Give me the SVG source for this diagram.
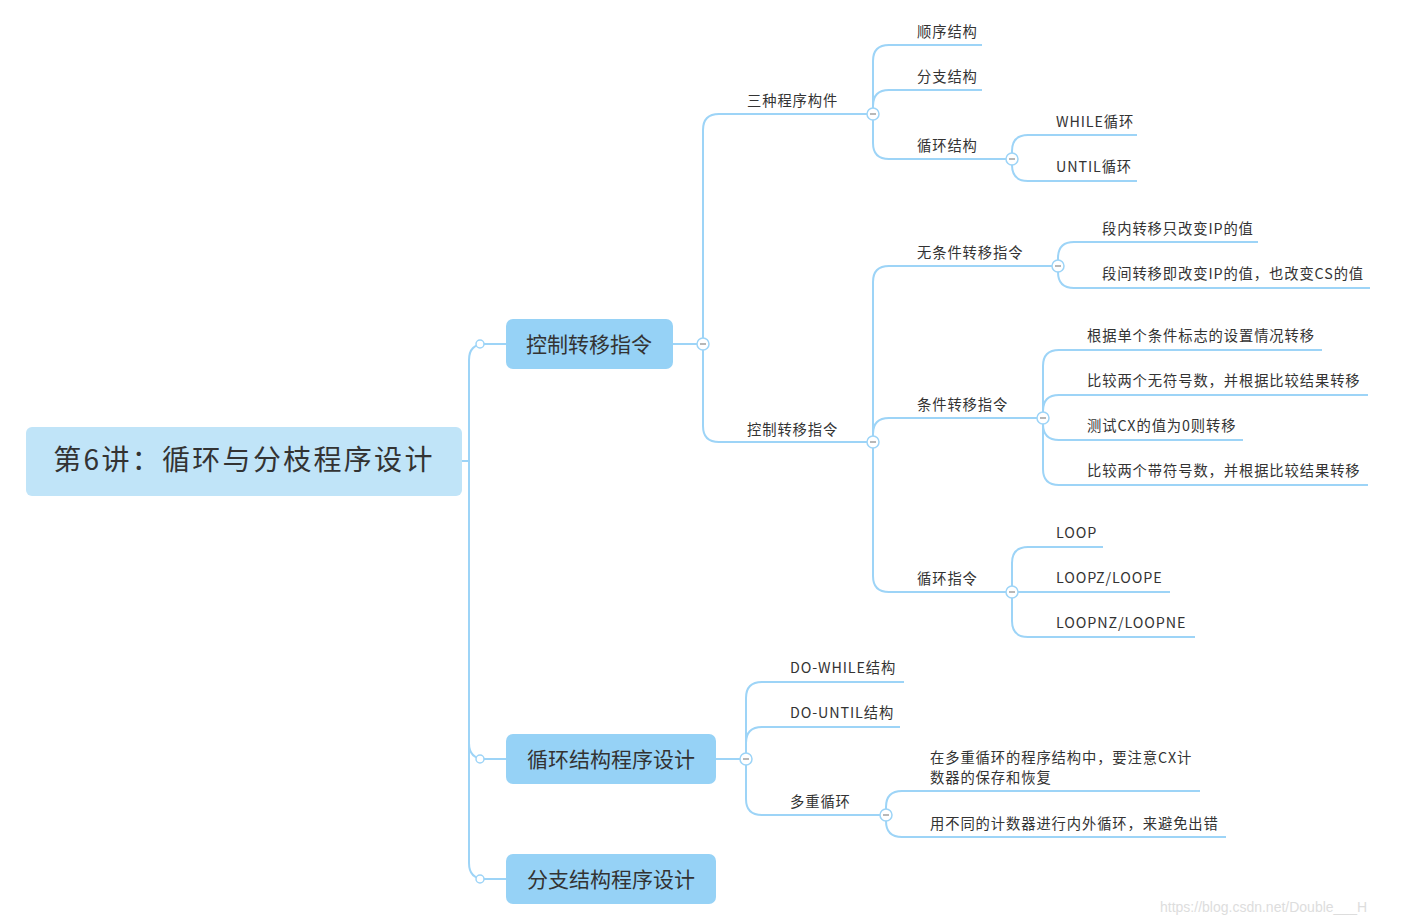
<svg xmlns="http://www.w3.org/2000/svg" width="1405" height="924" viewBox="0 0 1405 924">
<style>
.c{fill:none;stroke:#9dd4f7;stroke-width:2}
.t{font-family:"Noto Sans CJK SC","Noto Sans",sans-serif;font-size:14.3px;fill:#333;letter-spacing:0.9px}
.l1{font-family:"Noto Sans CJK SC","Noto Sans",sans-serif;font-size:21px;fill:#333}
.k{fill:#fff;stroke:#9dd4f7;stroke-width:1.5}
.m{stroke:#888;stroke-width:1.2}
</style>
<rect width="1405" height="924" fill="#fff"/>
<g id="connectors">
<path class="c" d="M462 461H469M469 461V360Q469 344 485 344H506M469 461V743Q469 759 485 759H506M469 461V863Q469 879 485 879H506"/>
<path class="c" d="M673 344H703M703 344V130Q703 114 719 114H873M703 344V426Q703 442 719 442H873"/>
<path class="c" d="M873 114V61Q873 45 889 45H982M873 114V106Q873 90 889 90H982M873 114V143Q873 159 889 159H1012"/>
<path class="c" d="M1012 159V151Q1012 135 1028 135H1137M1012 159V165Q1012 181 1028 181H1137"/>
<path class="c" d="M873 442V282Q873 266 889 266H1058M873 442V434Q873 418 889 418H1043M873 442V576Q873 592 889 592H1012"/>
<path class="c" d="M1058 266V258Q1058 242 1074 242H1258M1058 266V272Q1058 288 1074 288H1370"/>
<path class="c" d="M1043 418V366Q1043 350 1059 350H1322M1043 418V411Q1043 395 1059 395H1368M1043 418V424Q1043 440 1059 440H1243M1043 418V469Q1043 485 1059 485H1368"/>
<path class="c" d="M1012 592V563Q1012 547 1028 547H1103M1012 592H1170M1012 592V621Q1012 637 1028 637H1195"/>
<path class="c" d="M716 759H746M746 759V698Q746 682 762 682H904M746 759V743Q746 727 762 727H900M746 759V799Q746 815 762 815H886"/>
<path class="c" d="M886 815V807Q886 791 902 791H1200M886 815V821Q886 837 902 837H1226"/>
<g>
<circle class="k" cx="480" cy="344" r="4"/><circle class="k" cx="480" cy="759" r="4"/><circle class="k" cx="480" cy="879" r="4"/>
<circle class="k" cx="703" cy="344" r="6"/><path class="m" d="M700 344h6"/>
<circle class="k" cx="873" cy="114" r="6"/><path class="m" d="M870 114h6"/>
<circle class="k" cx="873" cy="442" r="6"/><path class="m" d="M870 442h6"/>
<circle class="k" cx="1012" cy="159" r="6"/><path class="m" d="M1009 159h6"/>
<circle class="k" cx="1058" cy="266" r="6"/><path class="m" d="M1055 266h6"/>
<circle class="k" cx="1043" cy="418" r="6"/><path class="m" d="M1040 418h6"/>
<circle class="k" cx="1012" cy="592" r="6"/><path class="m" d="M1009 592h6"/>
<circle class="k" cx="746" cy="759" r="6"/><path class="m" d="M743 759h6"/>
<circle class="k" cx="886" cy="815" r="6"/><path class="m" d="M883 815h6"/>
</g>
</g>
<g id="root"><rect x="26" y="427" width="436" height="69" rx="6" fill="#c0e4f8"/><text x="244" y="470" text-anchor="middle" font-family="Noto Sans CJK SC,sans-serif" font-size="28" fill="#333" letter-spacing="2.3">第6讲：循环与分枝程序设计</text></g>
<g id="n1"><rect x="506" y="319" width="167" height="50" rx="7" fill="#96d2f6"/><text class="l1" x="589" y="352" text-anchor="middle">控制转移指令</text></g>
<g id="n2"><rect x="506" y="734" width="210" height="50" rx="7" fill="#96d2f6"/><text class="l1" x="611" y="767" text-anchor="middle">循环结构程序设计</text></g>
<g id="n3"><rect x="506" y="854" width="210" height="50" rx="7" fill="#96d2f6"/><text class="l1" x="611" y="887" text-anchor="middle">分支结构程序设计</text></g>
<g id="a"><text class="t" x="747" y="106">三种程序构件</text></g>
<g id="b"><text class="t" x="747" y="435">控制转移指令</text></g>
<g id="a1"><text class="t" x="917" y="37">顺序结构</text></g>
<g id="a2"><text class="t" x="917" y="82">分支结构</text></g>
<g id="a3"><text class="t" x="917" y="151">循环结构</text></g>
<g id="a31"><text class="t" x="1056" y="127">WHILE循环</text></g>
<g id="a32"><text class="t" x="1056" y="172">UNTIL循环</text></g>
<g id="b1"><text class="t" x="917" y="258">无条件转移指令</text></g>
<g id="b11"><text class="t" x="1102" y="234">段内转移只改变IP的值</text></g>
<g id="b12"><text class="t" x="1102" y="279">段间转移即改变IP的值，也改变CS的值</text></g>
<g id="b2"><text class="t" x="917" y="410">条件转移指令</text></g>
<g id="b21"><text class="t" x="1087" y="341">根据单个条件标志的设置情况转移</text></g>
<g id="b22"><text class="t" x="1087" y="386">比较两个无符号数，并根据比较结果转移</text></g>
<g id="b23"><text class="t" x="1087" y="431">测试CX的值为0则转移</text></g>
<g id="b24"><text class="t" x="1087" y="476">比较两个带符号数，并根据比较结果转移</text></g>
<g id="b3"><text class="t" x="917" y="584">循环指令</text></g>
<g id="b31"><text class="t" x="1056" y="538">LOOP</text></g>
<g id="b32"><text class="t" x="1056" y="583">LOOPZ/LOOPE</text></g>
<g id="b33"><text class="t" x="1056" y="628">LOOPNZ/LOOPNE</text></g>
<g id="c1"><text class="t" x="790" y="673">DO-WHILE结构</text></g>
<g id="c2"><text class="t" x="790" y="718">DO-UNTIL结构</text></g>
<g id="c3"><text class="t" x="790" y="807">多重循环</text></g>
<g id="c31"><text class="t" x="930" y="763">在多重循环的程序结构中，要注意CX计</text><text class="t" x="930" y="783">数器的保存和恢复</text></g>
<g id="c32"><text class="t" x="930" y="829">用不同的计数器进行内外循环，来避免出错</text></g>
<text x="1160" y="912" font-family="Liberation Sans,sans-serif" font-size="14" fill="#ddd">https://blog.csdn.net/Double___H</text>
</svg>
